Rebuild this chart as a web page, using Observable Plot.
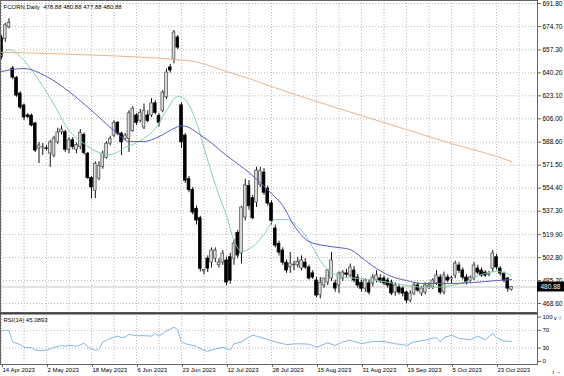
<!DOCTYPE html>
<html><head><meta charset="utf-8">
<script src="https://cdn.jsdelivr.net/npm/d3@7"></script>
<script src="https://cdn.jsdelivr.net/npm/@observablehq/plot@0.6"></script>
<style>
html,body{margin:0;padding:0;background:#fff;}
#chart{position:relative;width:564px;height:376px;overflow:hidden;background:#fff;}
#chart svg{position:absolute;left:0;}
</style></head><body><div id="chart"></div>
<script>
const symbolName = "FCORN,Daily";
const dateLabels = ["14 Apr 2023","2 May 2023","18 May 2023","6 Jun 2023","23 Jun 2023","12 Jul 2023","28 Jul 2023","15 Aug 2023","31 Aug 2023","19 Sep 2023","5 Oct 2023","23 Oct 2023"];
const labelBars = [0,12,24,36,48,60,72,84,96,108,120,132];
const priceTicks = [691.8,674.7,657.3,640.2,623.1,606.0,588.6,571.5,554.4,537.3,519.9,502.8,485.7,468.6];
const rsiTicks = [100,70,30,0];
const rsiLevels = [70,30];

const open = [666,665.5,674,643.4,636.5,624.8,615.9,608.5,608.4,602.5,583.9,584.6,584,580.2,578.7,588.4,596,596,583,590,583,585,594,580,562,552.5,561.5,570,577,587.5,593.5,603,595,591,591,597,608.5,604.5,599.5,608.5,608.5,617.5,608,612,622,644.2,650,666.5,616,593.5,561,553,539,532,492.5,502,499,502,497,499,500.6,503,502,521,505.8,532.6,556,547,543.7,557,566,554,543,524.4,513,508,499,495.5,497,497,494.6,499,495.4,491,485.7,475,482,484.2,487.2,483.5,482,487.2,491,489.4,493.1,487.9,484,479.7,483.5,483.5,485.7,487.2,487.2,485.7,484.2,476.8,480.5,479.7,476.8,470.8,476,482,476,476.8,480.5,480.5,483.5,487.9,476.8,487.9,486.5,489.4,496.8,493.1,487.9,485.7,487.2,494.6,493.1,491.6,490,494.6,503,494.6,490.9,487.2,478.88];
const high = [668,677,680.5,645,637.5,626,617,610,609.5,603.5,588.4,587.6,586,590,593,599,600.5,597.5,592,592,588,598,595.5,581,563,574,574,582,589,593,604.5,604,596,595,612,615,610,613,617,612,621,619.5,610,627,643,646.5,671.7,668,618,595,563,555,541,533.5,494,504,510,510,502,508,503,506,516,523,541,561,560,549,570,570,569,556,545,527,515,510,501,506.5,500,503,504,502,497,493,488,488,487,494,506.5,486,492,493,494,498,496,490,486,487,486,490,493,490,489,487.5,486,484,483,481,478,478,484,484,481,484,484,487,493,490,492,490,489,500,499,495,490,489,499,497,495,493,492.5,508,505,496,492,488,480.88];
const low = [650,663,673,635,622,613,604.7,606,600,581,572.7,578.7,582,569.8,577,587,594,581,580,583,580,583,579,561,546.5,546.7,560,568.5,576,586,592,593.5,578.7,590,581,596,601,603,598,603,607,609,600,610.5,620.5,640,647,657.5,584,558,551,534.5,527,492,490,491.6,495,499,495,497,482,483,497,502,498,530,538,531,540,555,549,541,527,510,504,497,491,491,493,495,493,494,486,486.5,473,472,480,482,485,477,476,485,488,488,484,480,477,477,475,481,484,483.5,482,480,474.5,474,475,473.5,468.6,469,474.5,477,474,475,479,479,482,475,475,484,483,487,491,486,482.5,484,485.5,490,488,488,488.5,492,493.5,489,484,477,477.88];
const close = [652,675.5,677.5,636.7,623.3,614.4,607,607.5,601,582.4,586.1,584.8,583.5,588.4,591.3,595.8,598,583,590,585,586.5,595.5,580.5,562,555,572.5,571,580,587.5,591,603,595,588.5,593.5,610,613.5,603,610.5,612,604.5,617.5,610.5,603,625.5,640.4,642,670.2,659,588.5,560,553,536.3,530.3,494.5,493.5,494.6,508,508,499,505.8,484.2,485.7,513.2,504.3,540,556.4,541,532,567.5,567,551,543,530,511.7,506.5,499,493.1,498.3,497.5,499.5,500.6,495.4,487.2,488,474.5,484,487.2,493.1,500.6,479.7,490.9,491.6,490,495.4,485.7,482,479.5,485.7,476.8,487.9,489.4,485,483.5,482,476,482,476.8,476,470.8,476,482,478.2,479.7,482,482,485.7,489.4,476.8,489.4,485.7,487.5,498.3,493.1,487.9,484.2,487.9,496.8,491.6,489.4,489.4,491,505.8,495.4,490.9,485.7,479.7,480.88];

const maSlowBars = [0,12,24,36,48,52,56,60,66,72,84,96,108,120,132,136];
const maSlowVals = [655.5,654.6,653.5,652,649.7,648.3,645,641.2,636,630,618.9,608.4,598,587.6,578,574.2];
const maMidBars = [0,6,12,18,24,30,34,38,42,46,48,54,60,66,72,75,78,82,86,90,93,96,100,104,108,112,120,126,132,136];
const maMidVals = [641.2,643.4,637.5,626.3,612.2,597.3,589.1,589.1,592.8,598.8,601,592.1,578.7,566,550.4,541.5,526.6,514.7,511.7,510.2,508.7,502.8,494.6,488.7,485.7,483.5,483.5,484.2,485.7,486.4];
const maFastBars = [0,2,6,10,14,18,22,26,29,33,37,41,44,47,49,52,55,58,60,62,64,67,70,73,76,79,82,85,88,92,96,102,108,114,120,124,128,132,136];
const maFastVals = [653.1,657.5,649.4,634.5,616.6,597.3,587.6,580.9,579.4,584.6,589.8,598.8,612.2,622.6,620.3,603.2,575,548.9,534,515.4,507.3,511,519.9,531.1,531.1,525.9,515.4,500.6,491.6,487.9,487.2,484.9,482,480.5,482,484.9,490.1,492.4,489.4];

const rsiBars = [0,1,2,3,5,6,8,9,10,12,14,16,17,18,20,22,23,25,26,27,29,31,32,33,34,36,38,40,41,42,44,46,47,48,49,52,54,55,57,59,61,62,64,66,67,68,70,73,76,79,82,84,87,89,91,93,96,99,102,105,107,108,110,113,116,117,118,120,122,125,127,129,131,132,134,136];
const rsiVals = [70,70,69,44,38,32,31,26,25,25,32,36,34,37,34,41,33,25,27,44,52,57,54,55,61,58,58,57,63,57,69,77,71,44,40,34,25,23,28,32,26,40,44,55,59,57,52,44,38,40,39,32,42,36,44,48,40,45,45,40,38,36,44,48,54,44,54,59,52,49,57,49,63,54,46,45.0893];

const candles = open.map((o, i) => ({i, open: o, high: high[i], low: low[i], close: close[i], up: close[i] >= o}));
const last = candles[candles.length - 1];
const toPts = (b, v) => b.map((x, k) => ({i: x, v: v[k]}));
const gridBars = d3.range(0, 142, 6);

const font = "'Liberation Sans', Arial, sans-serif";
const xDomain = [-0.27, 142.93];
const yDomain = [461.9, 694.03];
const barPx = 3.75;

const main = Plot.plot({
  width: 564, height: 312,
  marginTop: 0, marginBottom: 0, marginLeft: 0, marginRight: 27,
  x: {domain: xDomain, axis: null},
  y: {domain: yDomain, axis: null},
  style: {fontFamily: font, fontSize: "6.5px", color: "#000", background: "transparent", overflow: "visible"},
  marks: [
    Plot.ruleY(priceTicks, {stroke: "#b8b8b8", strokeDasharray: "1,2"}),
    Plot.ruleX(gridBars, {stroke: "#b8b8b8", strokeDasharray: "1,2"}),
    Plot.ruleY([last.close], {stroke: "#c4c4c4"}),
    Plot.ruleX(candles, {x: "i", y1: "low", y2: "high", stroke: "#111", strokeWidth: 1}),
    Plot.rect(candles, {
      x1: d => d.i - 0.36, x2: d => d.i + 0.36, y1: "open", y2: "close",
      fill: d => d.up ? "#dedede" : "#000",
      stroke: d => d.up ? "#555" : "#000", strokeWidth: 0.8
    }),
    Plot.line(toPts(maSlowBars, maSlowVals), {x: "i", y: "v", stroke: "#eab48a", strokeWidth: 1, curve: "monotone-x"}),
    Plot.line(toPts(maFastBars, maFastVals), {x: "i", y: "v", stroke: "#86d0b0", strokeWidth: 1, curve: "monotone-x"}),
    Plot.line(toPts(maMidBars, maMidVals), {x: "i", y: "v", stroke: "#5a5ad2", strokeWidth: 1, curve: "monotone-x"}),
    Plot.frame({stroke: "#666"}),
    Plot.axisY(priceTicks, {anchor: "right", tickSize: 3, tickPadding: 2, tickFormat: d => d.toFixed(2), fontSize: 6.5, stroke: "#666"}),
    Plot.rect([last.close], {x1: xDomain[1], x2: xDomain[1] + 27 / barPx, y1: d => d - 3.7, y2: d => d + 3.7, fill: "#000"}),
    Plot.text([last.close], {x: xDomain[1], y: d => d, text: d => d.toFixed(2), dx: 3, textAnchor: "start", fill: "#fff", fontSize: 6.5}),
    Plot.text([`${symbolName}  ${last.open.toFixed(2)} ${last.high.toFixed(2)} ${last.low.toFixed(2)} ${last.close.toFixed(2)}`],
      {frameAnchor: "top-left", dx: 3, dy: 4, text: d => d, fontSize: 6, fill: "#000"})
  ]
});
main.style.top = "0px";

const rsiPlot = Plot.plot({
  width: 564, height: 64,
  marginTop: 1, marginBottom: 12, marginLeft: 0, marginRight: 27,
  x: {domain: xDomain, axis: null},
  y: {domain: [-6.7, 107.9], axis: null},
  style: {fontFamily: font, fontSize: "6px", color: "#000", background: "transparent", overflow: "visible"},
  marks: [
    Plot.ruleY(rsiLevels, {stroke: "#b8b8b8", strokeDasharray: "1,2"}),
    Plot.ruleX(gridBars, {stroke: "#b8b8b8", strokeDasharray: "1,2"}),
    Plot.line(toPts(rsiBars, rsiVals), {x: "i", y: "v", stroke: "#86b6e6", strokeWidth: 1}),
    Plot.frame({stroke: "#666"}),
    Plot.ruleY([107.9], {stroke: "#444", strokeWidth: 2}),
    Plot.axisY(rsiTicks, {anchor: "right", tickSize: 3, tickPadding: 2, tickFormat: d => String(d), fontSize: 6, stroke: "#666"}),
    Plot.axisX(labelBars, {anchor: "bottom", tickSize: 3, tickPadding: 0, textAnchor: "start", dx: 1,
      tickFormat: d => dateLabels[labelBars.indexOf(d)], fontSize: 6, stroke: "#666"}),
    Plot.text([`RSI(14) ${rsiVals[rsiVals.length - 1].toFixed(4)}`], {frameAnchor: "top-left", dx: 3, dy: 4, text: d => d, fontSize: 6, fill: "#000"})
  ]
});
rsiPlot.style.top = "312px";

const chart = document.getElementById("chart");
chart.appendChild(main);
chart.appendChild(rsiPlot);
</script>
</body></html>
